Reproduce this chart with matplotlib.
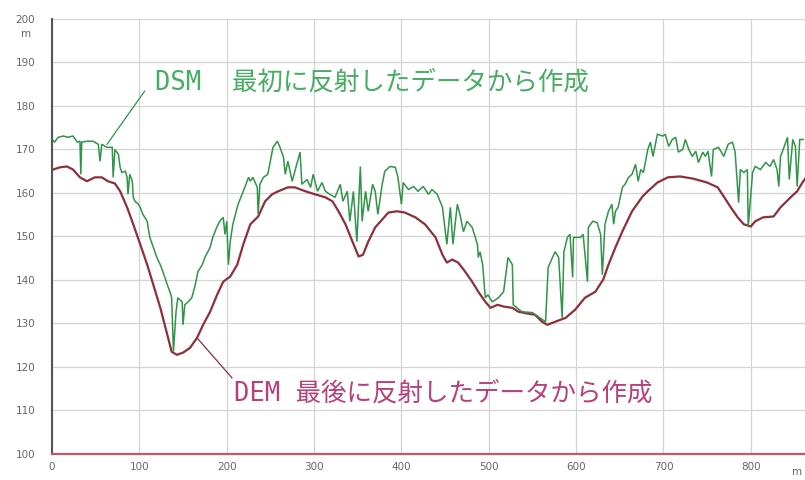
import matplotlib
matplotlib.use("Agg")
import matplotlib.pyplot as plt
import matplotlib.transforms as mtransforms

# Ground profile (last return): distance along the section (m) and elevation (m)
dem_dist = [0, 9, 17, 24, 32, 40, 49, 57, 64, 72, 78, 86, 93, 101, 109, 116, 124,
            132, 137, 143, 150, 158, 166, 173, 181, 189, 196, 204, 212, 219, 227,
            236, 244, 252, 259, 270, 278, 290, 301, 313, 321, 328, 336, 344, 351,
            356, 362, 370, 378, 385, 395, 404, 416, 427, 439, 447, 452, 458, 465,
            473, 481, 488, 496, 502, 510, 517, 527, 534, 544, 553, 561, 567, 576,
            588, 599, 610, 622, 631, 637, 645, 653, 664, 676, 682, 693, 705, 719,
            734, 750, 762, 769, 777, 785, 792, 800, 805, 814, 826, 834, 845, 853,
            860, 863]
dem_elev = [165.3, 165.9, 166.1, 165.4, 163.6, 162.7, 163.6, 163.6, 162.7, 162.2,
            160.4, 156.7, 152.8, 148.2, 143.5, 138.9, 133.6, 127.4, 123.5, 122.8,
            123.3, 124.4, 126.7, 129.7, 132.7, 136.6, 139.6, 140.8, 143.5, 148.2,
            152.8, 154.6, 158.1, 159.7, 160.4, 161.3, 161.3, 160.4, 159.7, 159.0,
            158.1, 155.8, 152.8, 148.8, 145.4, 145.8, 148.8, 152.1, 153.9, 155.5,
            155.8, 155.5, 154.4, 152.8, 149.8, 145.8, 144.0, 144.7, 144.0, 141.9,
            139.6, 137.3, 135.0, 133.6, 134.3, 133.9, 133.6, 132.7, 132.3, 132.0,
            130.4, 129.7, 130.4, 131.3, 133.2, 135.9, 137.3, 140.1, 143.5, 147.5,
            151.2, 155.8, 159.2, 160.4, 162.4, 163.6, 163.8, 163.3, 162.4, 161.3,
            159.2, 156.7, 154.4, 152.8, 152.3, 153.5, 154.4, 154.6, 156.7, 158.9,
            160.4, 162.7, 163.5]

# Surface profile including trees and buildings (first return)
dsm_dist = [0, 3, 7, 13, 18, 24, 29, 32, 33, 34, 40, 47, 53, 55, 57, 63, 69, 70,
            72, 76, 78, 80, 84, 86, 87, 89, 92, 93, 95, 99, 101, 104, 109, 110, 112,
            116, 120, 124, 127, 132, 135, 137, 139, 142, 144, 149, 150, 152, 156,
            160, 164, 167, 172, 175, 181, 184, 189, 192, 196, 198, 200, 202, 204,
            207, 213, 219, 225, 227, 230, 235, 236, 238, 242, 247, 253, 258, 261,
            265, 267, 270, 275, 278, 284, 286, 292, 296, 299, 304, 309, 313, 318,
            324, 330, 333, 338, 341, 345, 349, 353, 355, 359, 362, 367, 370, 373,
            378, 381, 387, 393, 396, 400, 402, 408, 414, 419, 425, 431, 435, 441,
            447, 452, 456, 459, 464, 467, 471, 475, 481, 487, 488, 490, 493, 496,
            499, 504, 511, 517, 522, 527, 528, 538, 550, 565, 568, 573, 576, 580,
            584, 586, 590, 593, 596, 597, 601, 605, 608, 613, 614, 619, 624, 628,
            630, 633, 637, 641, 643, 645, 648, 653, 656, 660, 664, 668, 671, 674,
            677, 682, 685, 688, 693, 699, 702, 706, 710, 714, 717, 722, 725, 729,
            733, 737, 740, 745, 748, 751, 755, 757, 763, 769, 774, 779, 782, 786,
            788, 792, 796, 797, 802, 805, 811, 817, 822, 826, 830, 832, 834, 837,
            842, 844, 848, 851, 853, 856, 860]
dsm_elev = [172.3, 171.7, 172.8, 173.1, 172.8, 173.1, 171.7, 171.9, 164.3, 171.7,
            171.9, 171.9, 171.2, 167.3, 171.2, 170.5, 170.5, 163.6, 170.0, 168.9,
            165.9, 164.7, 165.0, 163.6, 159.7, 164.3, 162.7, 159.0, 158.1, 157.4,
            156.7, 155.1, 153.5, 152.1, 149.8, 147.5, 145.2, 143.5, 141.9, 138.9,
            137.3, 135.9, 123.5, 132.7, 135.9, 135.0, 129.7, 134.3, 135.0, 135.9,
            138.9, 141.9, 143.5, 145.2, 147.5, 149.8, 152.3, 153.5, 154.4, 150.5,
            153.5, 143.5, 148.8, 152.8, 157.4, 160.4, 163.6, 162.7, 163.6, 161.3,
            155.1, 162.0, 163.6, 164.3, 170.5, 171.9, 170.5, 168.2, 164.3, 167.3,
            162.7, 165.0, 169.4, 162.0, 163.1, 161.3, 164.3, 160.4, 162.4, 160.4,
            159.7, 159.0, 162.0, 158.1, 160.4, 153.5, 160.4, 148.8, 166.1, 153.5,
            160.4, 155.8, 162.0, 160.4, 155.1, 162.0, 165.0, 166.1, 165.9, 163.6,
            157.4, 162.4, 160.8, 161.5, 160.4, 161.5, 159.7, 160.8, 159.7, 156.7,
            148.2, 156.7, 148.2, 157.4, 155.1, 151.1, 153.5, 152.1, 148.2, 145.2,
            146.5, 143.5, 135.9, 136.6, 135.0, 135.9, 137.3, 145.2, 143.5, 134.3,
            132.7, 132.5, 130.4, 142.9, 145.2, 146.5, 145.2, 131.3, 146.5, 149.8,
            150.5, 140.6, 149.8, 149.8, 149.8, 150.5, 139.6, 152.1, 153.5, 153.2,
            150.5, 141.2, 152.8, 155.8, 157.4, 152.8, 155.8, 156.7, 161.3, 162.0,
            163.6, 164.3, 166.6, 162.7, 165.4, 164.7, 170.0, 171.7, 168.4, 173.5,
            173.1, 173.5, 170.7, 172.3, 172.8, 169.4, 170.0, 172.3, 170.0, 168.4,
            169.6, 167.0, 169.4, 168.4, 169.6, 163.8, 170.0, 170.5, 168.4, 171.2,
            171.7, 169.4, 157.8, 165.4, 164.7, 165.4, 152.3, 164.7, 166.1, 165.4,
            167.0, 166.1, 167.7, 165.4, 161.5, 168.4, 170.0, 172.8, 163.1, 172.3,
            170.7, 161.5, 172.3, 172.3]

x_ticks = [0, 100, 200, 300, 400, 500, 600, 700, 800]
y_ticks = [100, 110, 120, 130, 140, 150, 160, 170, 180, 190, 200]

dsm_label = "DSM  最初に反射したデータから作成"
dem_label = "DEM 最後に反射したデータから作成"

GREEN = "#2f9548"
GREEN_TEXT = "#46ad62"
RED = "#8e2f3c"
RED_TEXT = "#b8407a"

fig = plt.figure(figsize=(8.05, 4.80), dpi=100)
ax = fig.add_axes([52 / 805, 26 / 480, 1 - 52 / 805, 1 - 26 / 480 - 19 / 480])

ax.set_xlim(0, 862)
ax.set_ylim(100, 200)
ax.set_xticks(x_ticks)
ax.set_yticks(y_ticks)
ax.grid(True, color="#d4d4d4", linewidth=0.9)
ax.set_axisbelow(True)

ax.tick_params(axis="both", length=0, labelsize=7.5, labelcolor="#666666")
ax.tick_params(axis="y", pad=12)
ax.tick_params(axis="x", pad=6)

for side in ("top", "right"):
    ax.spines[side].set_visible(False)
ax.spines["left"].set_color("#555555")
ax.spines["left"].set_linewidth(1.5)
ax.spines["bottom"].set_color("#c25868")
ax.spines["bottom"].set_linewidth(1.6)

ax.plot(dem_dist, dem_elev, color=RED, linewidth=1.6, solid_joinstyle="round")
ax.plot(dsm_dist, dsm_elev, color=GREEN, linewidth=1.1, solid_joinstyle="miter")

# Unit labels for both axes
ytrans = mtransforms.blended_transform_factory(ax.transAxes, ax.transData)
ax.text(-0.034, 197.6, "m", transform=ytrans, fontsize=7.5, color="#666666",
        ha="center", va="top")
ax.text(853, 97.0, "m", fontsize=7.5, color="#666666", ha="center", va="top",
        clip_on=False)

# Callouts
fams = ["DejaVu Sans Mono", "Noto Sans CJK JP"]
ax.plot([63, 106], [171.2, 183.4], color=GREEN, linewidth=0.9)
ax.text(118, 185.3, dsm_label, family=fams, fontsize=18.4, color=GREEN_TEXT,
        ha="left", va="center")
ax.plot([166, 206], [126.7, 117.5], color=RED, linewidth=0.9)
ax.text(208, 114.0, dem_label, family=fams, fontsize=18.4, color=RED_TEXT,
        ha="left", va="center")

fig.savefig("out.png", dpi=100)
